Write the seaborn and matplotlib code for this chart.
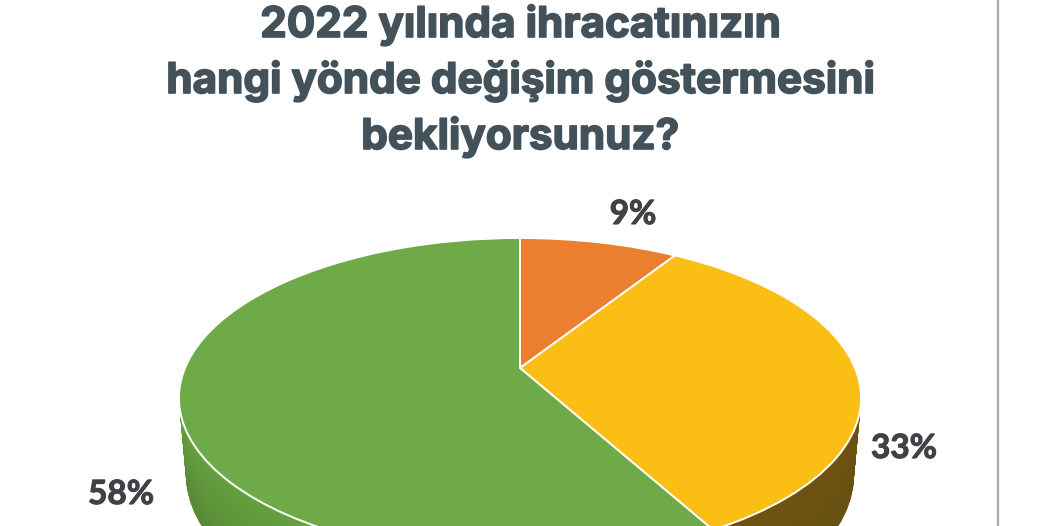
import matplotlib

matplotlib.use("Agg")
import matplotlib.patheffects as pe
import matplotlib.pyplot as plt
import matplotlib.transforms as mtransforms
import numpy as np
import seaborn as sns

title_lines = ["2022 yılında ihracatınızın", "hangi yönde değişim göstermesini", "bekliyorsunuz?"]
shares = [9, 33, 58]
share_labels = ["9%", "33%", "58%"]
top_colors = ["#E97F2F", "#FBBE14", "#6EAB48"]
side_colors_hi = ["#7A4418", "#6E5212", "#65A03F"]
side_colors_lo = ["#7A4418", "#665012", "#568836"]


class Tilt(mtransforms.Transform):
    # perspective view of the unit pie, the near half comes out bigger
    input_dims = 2
    output_dims = 2
    is_affine = False

    def __init__(self, x0, y0, sx, sy, k=0.1875):
        super().__init__()
        self.x0, self.y0, self.sx, self.sy, self.k = x0, y0, sx, sy, k

    def transform_non_affine(self, values):
        u, v = values[:, 0], values[:, 1]
        w = 1 + self.k * v
        return np.column_stack([self.x0 + self.sx * u / w, self.y0 - self.sy * v / w])


sns.set_theme(style="white")
plt.rcParams["font.family"] = ["Inter", "DejaVu Sans"]

fig = plt.figure(figsize=(10.4, 5.26), dpi=100)
ax = fig.add_axes([0, 0, 1, 1])


def draw_pie(colors, tilt, lw=0.0):
    wedges, _ = ax.pie(
        shares,
        colors=colors,
        startangle=90,
        counterclock=False,
        wedgeprops={"edgecolor": "white", "linewidth": lw} if lw else {"linewidth": 0},
    )
    for w in wedges:
        w.set_transform(tilt + ax.transData)


# side of the disc: stacked pies, deepest one first
depth = 76
for d in range(depth, 0, -1):
    t = d / depth
    cols = [
        tuple(np.array(matplotlib.colors.to_rgb(a)) * (1 - t) + np.array(matplotlib.colors.to_rgb(b)) * t)
        for a, b in zip(side_colors_hi, side_colors_lo)
    ]
    draw_pie(cols, Tilt(520, 368 + d, 335 * (1 - 0.021 * t), 154.4 * (1 + 0.05 * t)))

draw_pie(top_colors, Tilt(520, 368, 335, 154.4), lw=1.4)

ax.set_aspect("auto")
ax.set_xlim(0, 1040)
ax.set_ylim(526, 0)
ax.axis("off")

ax.plot([998, 998], [0, 526], color="#ABABAB", lw=1.6, solid_capstyle="butt")

thick = [pe.withStroke(linewidth=1.2, foreground="#43525A")]
for line, y in zip(title_lines, [37, 93, 149]):
    ax.text(520, y, line, ha="center", va="baseline", fontsize=30.4, fontweight="bold",
            color="#43525A", path_effects=thick)

thick = [pe.withStroke(linewidth=0.8, foreground="#404245")]
for label, x, y in zip(share_labels, [633, 904, 121], [224, 458, 504]):
    ax.text(x, y, label, ha="center", va="baseline", fontsize=24, fontweight="bold",
            family=["Lato", "DejaVu Sans"], color="#404245", path_effects=thick)

fig.savefig("out.png", dpi=100)
